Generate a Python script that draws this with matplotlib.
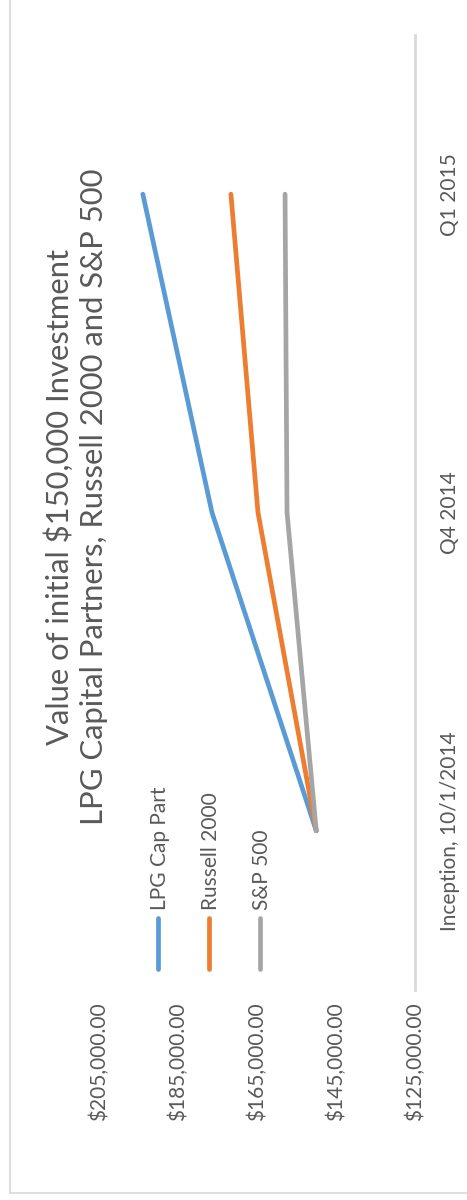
import matplotlib.pyplot as plt
from matplotlib.lines import Line2D

plt.rcParams['font.family'] = ['Lato', 'DejaVu Sans']

# values (USD) at each period
periods = ['Inception, 10/1/2014', 'Q4 2014', 'Q1 2015']
lpg_cap = [150000, 176400, 193900]
russell_2000 = [150000, 164750, 171600]
sp_500 = [150000, 157400, 157900]

series_names = ['LPG Cap Part', 'Russell 2000', 'S&P 500']
series_colors = ['#5B9BD5', '#ED7D31', '#A5A5A5']

value_ticks = [205000, 185000, 165000, 145000, 125000]

W, H = 467, 1200
TXT = '#595959'
GRID = '#D9D9D9'

fig = plt.figure(figsize=(W / 100, H / 100), dpi=100)
fig.patch.set_facecolor('white')

# the chart is drawn turned a quarter turn: value runs right->left, time bottom->top
ax = fig.add_axes([99 / W, 1 - 990 / H, (415 - 99) / W, (990 - 35) / H])
pos = list(range(len(periods)))
for vals, col in zip([lpg_cap, russell_2000, sp_500], series_colors):
    ax.plot(vals, pos, color=col, lw=3.4, solid_capstyle='round',
            solid_joinstyle='round')

ax.set_xlim(205000, 125000)
ax.set_ylim(-0.5, len(periods) - 0.5)

ax.set_xticks(value_ticks)
ax.set_xticklabels([f'${v:,.2f}' for v in value_ticks], rotation=90,
                   color=TXT, fontsize=15)
ax.tick_params(axis='x', length=0, pad=9)

ax.yaxis.tick_right()
ax.set_yticks(pos)
ax.set_yticklabels(periods, rotation=90, color=TXT, fontsize=15, va='center')
ax.tick_params(axis='y', length=0, pad=18)

for s in ['top', 'bottom', 'left']:
    ax.spines[s].set_visible(False)
ax.spines['right'].set_color(GRID)
ax.spines['right'].set_linewidth(2)

# title
fig.text(76 / W, 1 - 497 / H,
         'Value of initial $150,000 Investment\nLPG Capital Partners, Russell 2000 and S&P 500',
         rotation=90, ha='center', va='center', multialignment='center',
         color=TXT, fontsize=22.3, linespacing=1.25)

# legend, laid out by hand because the handles are vertical
for i, (name, col) in enumerate(zip(series_names, series_colors)):
    x = (158 + 51 * i) / W
    fig.add_artist(Line2D([x, x], [1 - 969 / H, 1 - 918 / H], color=col, lw=3.4,
                          solid_capstyle='round', transform=fig.transFigure))
    fig.text(x + 2 / W, 1 - 910 / H, name, rotation=90, ha='center', va='bottom',
             color=TXT, fontsize=15)

# chart frame edges visible in the crop
fig.add_artist(Line2D([9.5 / W, 9.5 / W], [1 - 1193 / H, 1], color=GRID, lw=1.2,
                      transform=fig.transFigure))
fig.add_artist(Line2D([9.5 / W, 1], [1 - 1193 / H, 1 - 1193 / H], color=GRID, lw=1.2,
                      transform=fig.transFigure))

fig.savefig('out.png', dpi=100, facecolor='white')
